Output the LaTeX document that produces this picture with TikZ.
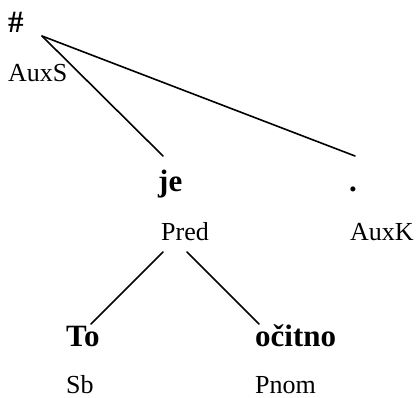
\documentclass[tikz,border=0pt]{standalone}
\usepackage{fontspec}
\setmainfont{Liberation Serif}
\begin{document}
\begin{tikzpicture}[x=1pt,y=-1pt,
  word/.style={inner sep=0pt,anchor=base west,font=\fontsize{31}{36}\selectfont\bfseries},
  func/.style={inner sep=0pt,anchor=base west,font=\fontsize{26}{30}\selectfont},
  edge/.style={line width=1.6pt,line cap=round}]
\useasboundingbox (0,0) rectangle (417,398);
% root
\node[word] (root) at (8,33) {\#};
\node[func] (rootf) at (8,82) {AuxS};
% first level
\node[word] (je) at (158,191) {je};
\node[func] (jef) at (161,240) {Pred};
\node[word] (dot) at (349,191) {.};
\node[func] (dotf) at (350,240) {AuxK};
% second level
\node[word] (to) at (66,346) {To};
\node[func] (tof) at (66,393) {Sb};
\node[word] (ocitno) at (255,346) {očitno};
\node[func] (ocitnof) at (255,393) {Pnom};
% connector end points
\coordinate (rootp) at (42,36);
\coordinate (jetop) at (163,156);
\coordinate (dottop) at (355,156);
\coordinate (predl) at (163,252);
\coordinate (predr) at (187,252);
\coordinate (totop) at (91,324);
\coordinate (octop) at (259,324);
% edges
\draw[edge] (rootp) -- (jetop);
\draw[edge] (rootp) -- (dottop);
\draw[edge] (predl) -- (totop);
\draw[edge] (predr) -- (octop);
\end{tikzpicture}
\end{document}
